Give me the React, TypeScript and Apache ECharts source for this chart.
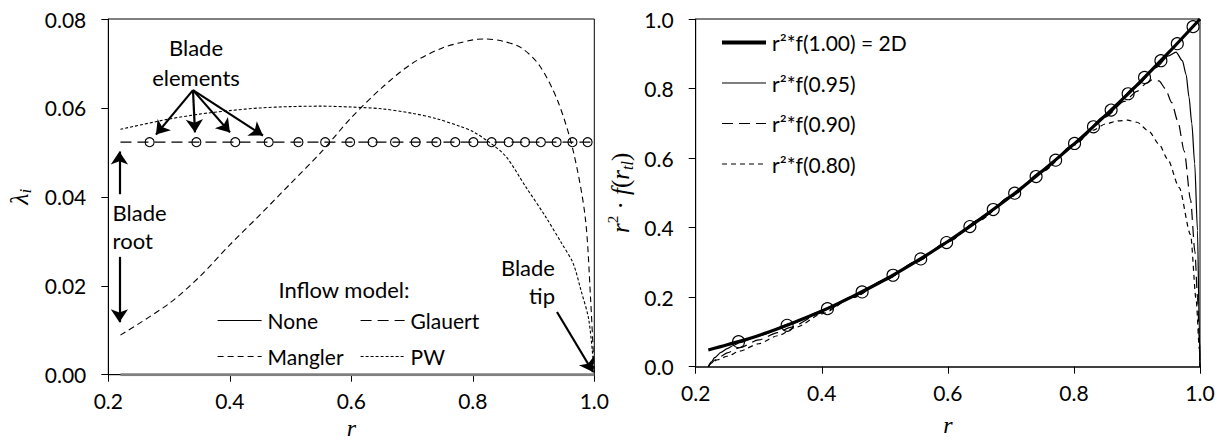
import React, { useEffect, useRef } from "react";
import * as echarts from "echarts";

// ---------- data (left panel: induced inflow lambda_i vs r) ----------
const noneData: number[][] = [[0.22, 0], [1.0, 0]];
const glauertData: number[][] = [[0.22, 0.0523], [1.0, 0.0523]];
const manglerData: number[][] = [
  [0.22, 0.0089], [0.3, 0.016], [0.35, 0.022], [0.4, 0.0292], [0.45, 0.036],
  [0.5, 0.043], [0.55, 0.05], [0.6, 0.0578], [0.65, 0.0645], [0.7, 0.07],
  [0.75, 0.0735], [0.8, 0.0753], [0.82, 0.0755], [0.85, 0.075], [0.88, 0.0735],
  [0.91, 0.0695], [0.94, 0.0615], [0.965, 0.0505], [0.985, 0.0355], [0.994, 0.0168],
  [1.0, 0.0],
];
const pwData: number[][] = [
  [0.22, 0.0552], [0.3, 0.0575], [0.35, 0.0586], [0.4, 0.0594], [0.45, 0.06],
  [0.5, 0.0603], [0.55, 0.0604], [0.6, 0.0602], [0.65, 0.0598], [0.7, 0.0588],
  [0.74, 0.0576], [0.78, 0.0558], [0.8, 0.0547], [0.83, 0.052], [0.855, 0.049],
  [0.887, 0.0423], [0.92, 0.0355], [0.946, 0.0296], [0.965, 0.0251], [0.978, 0.019],
  [0.991, 0.0123], [1.0, 0.0],
];
const bladeR: number[] = [
  0.268, 0.345, 0.409, 0.464, 0.513, 0.557, 0.598, 0.635, 0.672, 0.706,
  0.74, 0.771, 0.801, 0.831, 0.859, 0.886, 0.912, 0.938, 0.964, 0.989,
];
const bladeLambda: number[] = [
  0.0523, 0.0523, 0.0523, 0.0523, 0.0523, 0.0523, 0.0523, 0.0523, 0.0523, 0.0523,
  0.0523, 0.0523, 0.0523, 0.0523, 0.0523, 0.0523, 0.0523, 0.0523, 0.0523, 0.0523,
];

// ---------- data (right panel: r^2 * f(r_tl)) ----------
const f100Data: number[][] = [
  [0.22, 0.048], [0.25, 0.063], [0.3, 0.09], [0.35, 0.123], [0.4, 0.16], [0.45, 0.203],
  [0.5, 0.25], [0.55, 0.303], [0.6, 0.36], [0.65, 0.423], [0.7, 0.49], [0.75, 0.563],
  [0.8, 0.64], [0.85, 0.723], [0.9, 0.81], [0.95, 0.903], [1.0, 1.0],
];
const f095Data: number[][] = [
  [0.22, 0], [0.225, 0.014], [0.23, 0.026], [0.24, 0.041], [0.25, 0.052], [0.26, 0.061],
  [0.27, 0.069], [0.3, 0.089], [0.35, 0.123], [0.4, 0.16], [0.45, 0.203], [0.5, 0.25],
  [0.55, 0.303], [0.6, 0.36], [0.65, 0.423], [0.7, 0.49], [0.75, 0.563], [0.8, 0.64],
  [0.85, 0.722], [0.9, 0.808], [0.93, 0.86], [0.95, 0.894], [0.962, 0.905], [0.972, 0.88],
  [0.978, 0.84], [0.9825, 0.776], [0.987, 0.7], [0.9916, 0.584], [0.996, 0.392],
  [0.999, 0.096], [1.0, 0],
];
const f090Data: number[][] = [
  [0.22, 0], [0.225, 0.01], [0.23, 0.019], [0.24, 0.03], [0.25, 0.04], [0.27, 0.055],
  [0.3, 0.077], [0.33, 0.098], [0.35, 0.113], [0.4, 0.155], [0.45, 0.2], [0.5, 0.249],
  [0.55, 0.302], [0.6, 0.36], [0.65, 0.422], [0.7, 0.49], [0.75, 0.562], [0.8, 0.639],
  [0.85, 0.718], [0.88, 0.763], [0.9, 0.792], [0.915, 0.815], [0.925, 0.826],
  [0.935, 0.822], [0.945, 0.8], [0.955, 0.76], [0.965, 0.705], [0.975, 0.62],
  [0.985, 0.48], [0.992, 0.33], [0.996, 0.2], [0.999, 0.08], [1.0, 0],
];
const f080Data: number[][] = [
  [0.22, 0], [0.225, 0.012], [0.235, 0.02], [0.25, 0.03], [0.27, 0.045], [0.3, 0.066],
  [0.33, 0.089], [0.36, 0.114], [0.4, 0.152], [0.45, 0.199], [0.5, 0.249], [0.55, 0.301],
  [0.6, 0.359], [0.65, 0.421], [0.7, 0.489], [0.75, 0.561], [0.8, 0.637], [0.83, 0.68],
  [0.85, 0.698], [0.87, 0.707], [0.885, 0.709], [0.9, 0.703], [0.919, 0.677],
  [0.935, 0.64], [0.949, 0.596], [0.967, 0.515], [0.985, 0.38], [0.994, 0.19],
  [0.999, 0.05], [1.0, 0],
];
const circleR: number[] = [
  0.268, 0.345, 0.409, 0.464, 0.513, 0.557, 0.598, 0.635, 0.672, 0.706,
  0.74, 0.771, 0.801, 0.831, 0.859, 0.886, 0.912, 0.938, 0.964, 0.989,
];
const circleV: number[] = [
  0.072, 0.119, 0.167, 0.215, 0.263, 0.31, 0.357, 0.403, 0.452, 0.499,
  0.547, 0.594, 0.642, 0.69, 0.738, 0.785, 0.832, 0.88, 0.929, 0.978,
];

const leftLegend1 = ["None", "Mangler"];
const leftLegend2 = ["Glauert", "PW"];
const rightLegend = ["r²*f(1.00) = 2D", "r²*f(0.95)", "r²*f(0.90)", "r²*f(0.80)"];

const FONT = "Lato";
const FS = 21;
const SERIF = "Liberation Serif";

export default function App() {
  const ref = useRef<HTMLDivElement>(null);
  useEffect(() => {
    if (!ref.current) return;
    const chart = echarts.init(ref.current, undefined, { renderer: "svg" });
    const axisText = { color: "#000", fontFamily: FONT, fontSize: FS };
    const xAxisBase = (gridIndex: number, lineW: number, lineC: string, gap: number) => ({
      type: "value" as const,
      gridIndex,
      min: 0.2,
      max: 1.0,
      interval: 0.2,
      splitLine: { show: false },
      axisLine: { onZero: false, lineStyle: { color: lineC, width: lineW } },
      axisTick: { inside: false, length: 7, lineStyle: { color: "#000", width: 1 } },
      axisLabel: { ...axisText, margin: 15, formatter: (v: number) => v.toFixed(1) },
      name: "r",
      nameLocation: "middle" as const,
      nameGap: gap,
      nameTextStyle: { fontFamily: SERIF, fontStyle: "italic", fontSize: 24, color: "#000" },
    });
    const hollow = { color: "rgba(0,0,0,0)", borderColor: "#000", borderWidth: 1.1, opacity: 1 };
    const hideSym = { color: "rgba(0,0,0,0)", borderColor: "rgba(0,0,0,0)", borderWidth: 0, opacity: 0 };
    const arrow = (a: number[], b: number[]) => [{ coord: a }, { coord: b }];
    const legendBase = {
      orient: "vertical", padding: 0, itemWidth: 44, itemHeight: 14,
      textStyle: { ...axisText, padding: [0, 0, 0, 1] }, selectedMode: false,
      itemStyle: hideSym,
      lineStyle: { width: 1.2 },
    };
    const option: any = {
      animation: false,
      backgroundColor: "#fff",
      grid: [
        { left: 108.3, top: 19, width: 486, height: 355.7, show: true, borderColor: "#000", borderWidth: 1, outerBoundsMode: "none" },
        { left: 695.7, top: 19, width: 504.3, height: 347.7, show: true, borderColor: "#000", borderWidth: 1, outerBoundsMode: "none" },
      ],
      xAxis: [xAxisBase(0, 1, "#000", 39), xAxisBase(1, 2, "#404040", 46)],
      yAxis: [
        {
          type: "value",
          gridIndex: 0,
          min: 0,
          max: 0.08,
          interval: 0.02,
          splitLine: { show: false },
          axisLine: { show: true, lineStyle: { color: "#000", width: 1 } },
          axisTick: { inside: false, length: 7, lineStyle: { color: "#000" } },
          axisLabel: { ...axisText, margin: 22, formatter: (v: number) => v.toFixed(2) },
          name: "{l|λ}{s|i}",
          nameLocation: "middle",
          nameGap: 74,
          nameRotate: 90,
          nameTextStyle: {
            rich: {
              l: { fontFamily: SERIF, fontStyle: "italic", fontSize: 26, color: "#000", lineHeight: 30 },
              s: { fontFamily: SERIF, fontStyle: "italic", fontSize: 17, color: "#000", lineHeight: 16, verticalAlign: "bottom" },
            },
          },
        },
        {
          type: "value",
          gridIndex: 1,
          min: 0,
          max: 1.0,
          interval: 0.2,
          splitLine: { show: false },
          axisLine: { show: true, lineStyle: { color: "#000", width: 1 } },
          axisTick: { inside: false, length: 7, lineStyle: { color: "#000" } },
          axisLabel: { ...axisText, margin: 22, formatter: (v: number) => v.toFixed(1) },
          name: "{i|r}{p|2}{n| · }{i|f}{n|(}{i|r}{b|tl}{n|)}",
          nameLocation: "middle",
          nameGap: 60,
          nameRotate: 90,
          nameTextStyle: {
            rich: {
              i: { fontFamily: SERIF, fontStyle: "italic", fontSize: 25, color: "#000", lineHeight: 30 },
              n: { fontFamily: SERIF, fontSize: 25, color: "#000", lineHeight: 30 },
              p: { fontFamily: SERIF, fontSize: 15, color: "#000", lineHeight: 14, verticalAlign: "top" },
              b: { fontFamily: SERIF, fontStyle: "italic", fontSize: 16, color: "#000", lineHeight: 14, verticalAlign: "bottom" },
            },
          },
        },
      ],
      legend: [
        {
          ...legendBase,
          data: [{ name: leftLegend1[0], lineStyle: { color: "#000", width: 1.2 } }, leftLegend1[1]],
          left: 217, top: 310, itemGap: 15,
        },
        { ...legendBase, data: leftLegend2, left: 360, top: 310, itemGap: 15 },
        {
          ...legendBase,
          data: [{ name: rightLegend[0], lineStyle: { width: 4 } }, rightLegend[1], rightLegend[2], rightLegend[3]],
          left: 720, top: 32, itemGap: 19.5,
        },
      ],
      series: [
        {
          name: leftLegend1[0], type: "line", xAxisIndex: 0, yAxisIndex: 0, data: noneData,
          symbol: "none", lineStyle: { color: "#808080", width: 3 }, itemStyle: { color: "#808080" }, z: 4,
        },
        {
          name: leftLegend2[0], type: "line", xAxisIndex: 0, yAxisIndex: 0, data: glauertData,
          symbol: "none", lineStyle: { color: "#000", width: 1.2, type: [11, 6] }, itemStyle: { color: "#000" },
        },
        {
          name: leftLegend1[1], type: "line", xAxisIndex: 0, yAxisIndex: 0, data: manglerData,
          symbol: "none", smooth: 0.3, lineStyle: { color: "#000", width: 1.1, type: [6, 4] }, itemStyle: { color: "#000" },
        },
        {
          name: leftLegend2[1], type: "line", xAxisIndex: 0, yAxisIndex: 0, data: pwData,
          symbol: "none", smooth: 0.3, lineStyle: { color: "#000", width: 1.1, type: [3, 2] }, itemStyle: { color: "#000" },
        },
        {
          name: "Blade elements", type: "scatter", xAxisIndex: 0, yAxisIndex: 0,
          data: bladeR.map((r, i) => [r, bladeLambda[i]]),
          symbol: "circle", symbolSize: 9, itemStyle: hollow, z: 5,
          markLine: {
            silent: true, symbol: ["none", "arrow"], symbolSize: 13, animation: false,
            label: { show: false }, lineStyle: { color: "#000", width: 2.2, type: "solid", opacity: 1 },
            itemStyle: { color: "#000" },
            data: [
              arrow([0.3394, 0.064], [0.2785, 0.054]),
              arrow([0.3394, 0.064], [0.3427, 0.0545]),
              arrow([0.3394, 0.064], [0.4003, 0.0545]),
              arrow([0.3394, 0.064], [0.4546, 0.0538]),
              arrow([0.2183, 0.0406], [0.2183, 0.0502]),
              arrow([0.2183, 0.0265], [0.2183, 0.0118]),
              arrow([0.9386, 0.0141], [0.9979, 0.0006]),
            ],
          },
        },
        {
          name: rightLegend[0], type: "line", xAxisIndex: 1, yAxisIndex: 1, data: f100Data,
          symbol: "none", smooth: 0.3, lineStyle: { color: "#000", width: 3.2 }, itemStyle: { color: "#000" }, z: 3,
        },
        {
          name: rightLegend[1], type: "line", xAxisIndex: 1, yAxisIndex: 1, data: f095Data,
          symbol: "none", smooth: 0.25, smoothMonotone: "x", lineStyle: { color: "#000", width: 1.2 }, itemStyle: { color: "#000" },
        },
        {
          name: rightLegend[2], type: "line", xAxisIndex: 1, yAxisIndex: 1, data: f090Data,
          symbol: "none", smooth: 0.25, smoothMonotone: "x", lineStyle: { color: "#000", width: 1.2, type: [11, 6] }, itemStyle: { color: "#000" },
        },
        {
          name: rightLegend[3], type: "line", xAxisIndex: 1, yAxisIndex: 1, data: f080Data,
          symbol: "none", smooth: 0.25, smoothMonotone: "x", lineStyle: { color: "#000", width: 1.2, type: [5, 4] }, itemStyle: { color: "#000" },
        },
        {
          name: "2D elements", type: "scatter", xAxisIndex: 1, yAxisIndex: 1,
          data: circleR.map((r, i) => [r, circleV[i]]),
          symbol: "circle", symbolSize: 12, itemStyle: hollow, z: 5,
        },
      ],
      graphic: [
        {
          type: "text", x: 196, y: 62,
          style: { text: "Blade\nelements", fill: "#000", fontFamily: FONT, fontSize: 22, lineHeight: 30, align: "center", verticalAlign: "middle" },
        },
        {
          type: "text", x: 112.6, y: 226,
          style: { text: "Blade\nroot", fill: "#000", fontFamily: FONT, fontSize: 22, lineHeight: 28, align: "left", verticalAlign: "middle" },
        },
        {
          type: "text", x: 555, y: 281,
          style: { text: "Blade\ntip", fill: "#000", fontFamily: FONT, fontSize: 22, lineHeight: 28, align: "right", verticalAlign: "middle" },
        },
        {
          type: "text", x: 344, y: 289,
          style: { text: "Inflow model:", fill: "#000", fontFamily: FONT, fontSize: 22, align: "center", verticalAlign: "middle" },
        },
      ],
    };
    chart.setOption(option);
    return () => chart.dispose();
  }, []);
  return (
    <div
      ref={ref}
      style={{ position: "fixed", left: 0, top: 0, width: 1227, height: 441, background: "#fff" }}
    />
  );
}
